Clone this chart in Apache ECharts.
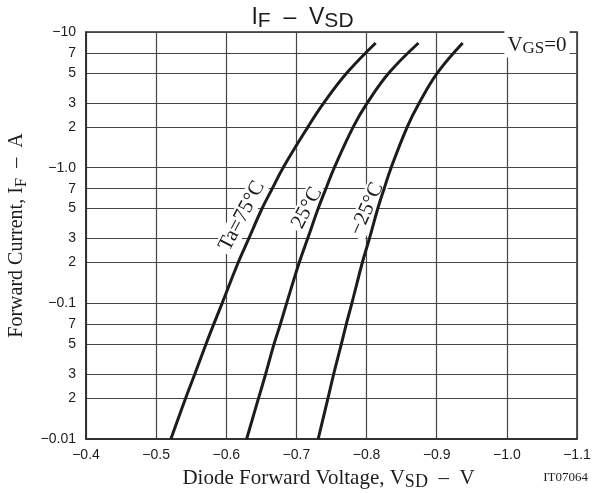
<!DOCTYPE html>
<html>
<head>
<meta charset="utf-8">
<script src="https://cdn.jsdelivr.net/npm/echarts@6/dist/echarts.min.js"></script>
<style>
  html, body { margin: 0; padding: 0; background: #fff; }
  #chart { width: 605px; height: 493px; }
</style>
</head>
<body>
<div id="chart"></div>
<script>
// forward current magnitude (A), shared by all three curves
const currents = [0.01, 0.02, 0.03, 0.05, 0.07, 0.1, 0.2, 0.3, 0.5, 0.7, 1, 2, 3, 5, 8.3]
// diode forward voltage (V) at each current
const vsdTa75 = [-0.521, -0.542, -0.555, -0.571, -0.582, -0.594, -0.617, -0.632, -0.651, -0.6655, -0.681, -0.7165, -0.739, -0.772, -0.813]
const vsdTa25 = [-0.629, -0.646, -0.656, -0.668, -0.677, -0.686, -0.704, -0.716, -0.731, -0.742, -0.754, -0.781, -0.801, -0.832, -0.874]
const vsdTaM25 = [-0.731, -0.745, -0.753, -0.764, -0.771, -0.779, -0.794, -0.804, -0.816, -0.825, -0.835, -0.858, -0.875, -0.901, -0.937]

const yTicks = [0.01, 0.02, 0.03, 0.05, 0.07, 0.1, 0.2, 0.3, 0.5, 0.7, 1, 2, 3, 5, 7, 10]
const yMajorLabels = { 0.01: '\u22120.01', 0.1: '\u22120.1', 1: '\u22121.0', 10: '\u221210' }

const SERIF = '"Liberation Serif", "Times New Roman", serif'
const SANS = '"Liberation Sans", Arial, sans-serif'
const GRID_COLOR = '#454545'

const chart = echarts.init(document.getElementById('chart'))

const makeCurve = (name, volts) => ({
  name,
  type: 'line',
  smooth: 0.4,
  symbol: 'none',
  data: volts.map((v, i) => [v, currents[i]]),
  lineStyle: { color: '#1c1c1c', width: 3 },
  z: 5,
})

const curveLabel = (text, x, y, deg) => ({
  type: 'text',
  x,
  y,
  rotation: (deg * Math.PI) / 180,
  z: 3,
  style: {
    text,
    font: `21px ${SERIF}`,
    fill: '#1c1c1c',
    align: 'center',
    verticalAlign: 'middle',
    backgroundColor: '#fff',
    padding: [0, 3],
  },
})

chart.setOption({
  animation: false,
  title: {
    text: 'I{s|F}  \u2013  V{s|SD}',
    left: 'center',
    top: -2,
    textStyle: {
      fontFamily: SANS,
      fontSize: 23,
      fontWeight: 'normal',
      color: '#1c1c1c',
      rich: {
        s: { fontFamily: SANS, fontSize: 21, color: '#1c1c1c', padding: [8, 0, 0, 0] },
      },
    },
  },
  grid: {
    left: 86,
    right: 28,
    top: 32,
    bottom: 54,
    outerBoundsMode: 'none',
    show: true,
    borderColor: '#2a2a2a',
    borderWidth: 1.5,
  },
  xAxis: {
    type: 'value',
    inverse: true,
    min: -1.1,
    max: -0.4,
    interval: 0.1,
    name: 'Diode Forward Voltage, V{s|SD}  \u2013  V',
    nameLocation: 'middle',
    nameGap: 26,
    nameTextStyle: {
      fontFamily: SERIF,
      fontSize: 21,
      color: '#1c1c1c',
      padding: [0, 6, 0, 0],
      rich: { s: { fontFamily: SERIF, fontSize: 18, color: '#1c1c1c', padding: [8, 0, 0, 0] } },
    },
    axisLine: { show: true, lineStyle: { color: '#2a2a2a', width: 1.5 } },
    axisTick: { show: false },
    axisLabel: {
      margin: 9,
      fontFamily: SANS,
      fontSize: 14,
      color: '#1c1c1c',
      formatter: (v) => '\u2212' + Math.abs(v).toFixed(1),
    },
    splitLine: { show: true, lineStyle: { color: GRID_COLOR, width: 1.2 } },
  },
  yAxis: {
    type: 'log',
    logBase: 10,
    min: 0.01,
    max: 10,
    name: 'Forward Current, I{s|F}  \u2013  A',
    nameLocation: 'middle',
    nameRotate: 90,
    nameGap: 56,
    nameTextStyle: {
      fontFamily: SERIF,
      fontSize: 20,
      color: '#1c1c1c',
      rich: { s: { fontFamily: SERIF, fontSize: 17, color: '#1c1c1c', padding: [8, 0, 0, 0] } },
    },
    axisLine: { show: true, lineStyle: { color: '#2a2a2a', width: 1.5 } },
    axisTick: { show: false, customValues: yTicks },
    axisLabel: {
      margin: 10,
      fontFamily: SANS,
      fontSize: 14,
      color: '#1c1c1c',
      customValues: yTicks,
      formatter: (v) => {
        const key = Number(v.toPrecision(3))
        if (yMajorLabels[key]) return yMajorLabels[key]
        return String(Math.round(key / Math.pow(10, Math.floor(Math.log10(key) + 1e-9))))
      },
    },
    splitLine: { show: true, customValues: yTicks, lineStyle: { color: GRID_COLOR, width: 1.2 } },
    minorSplitLine: { show: false },
  },
  series: [
    makeCurve('Ta=75°C', vsdTa75),
    makeCurve('25°C', vsdTa25),
    makeCurve('\u221225°C', vsdTaM25),
  ],
  graphic: [
    curveLabel('Ta=75°C', 242, 216, 62),
    curveLabel('25°C', 307, 208, 62),
    curveLabel('\u221225°C', 367, 209, 66),
    {
      type: 'text',
      x: 537,
      y: 44,
      z: 3,
      style: {
        text: 'V{s|GS}=0',
        font: `21px ${SERIF}`,
        fill: '#1c1c1c',
        align: 'center',
        verticalAlign: 'middle',
        backgroundColor: '#fff',
        padding: [2, 3, 0, 3],
        rich: { s: { font: `17px ${SERIF}`, fill: '#1c1c1c', padding: [8, 0, 0, 0] } },
      },
    },
    {
      type: 'text',
      x: 588,
      y: 478,
      style: {
        text: 'IT07064',
        font: `13px ${SERIF}`,
        fill: '#1c1c1c',
        align: 'right',
        verticalAlign: 'middle',
      },
    },
  ],
})
</script>
</body>
</html>
